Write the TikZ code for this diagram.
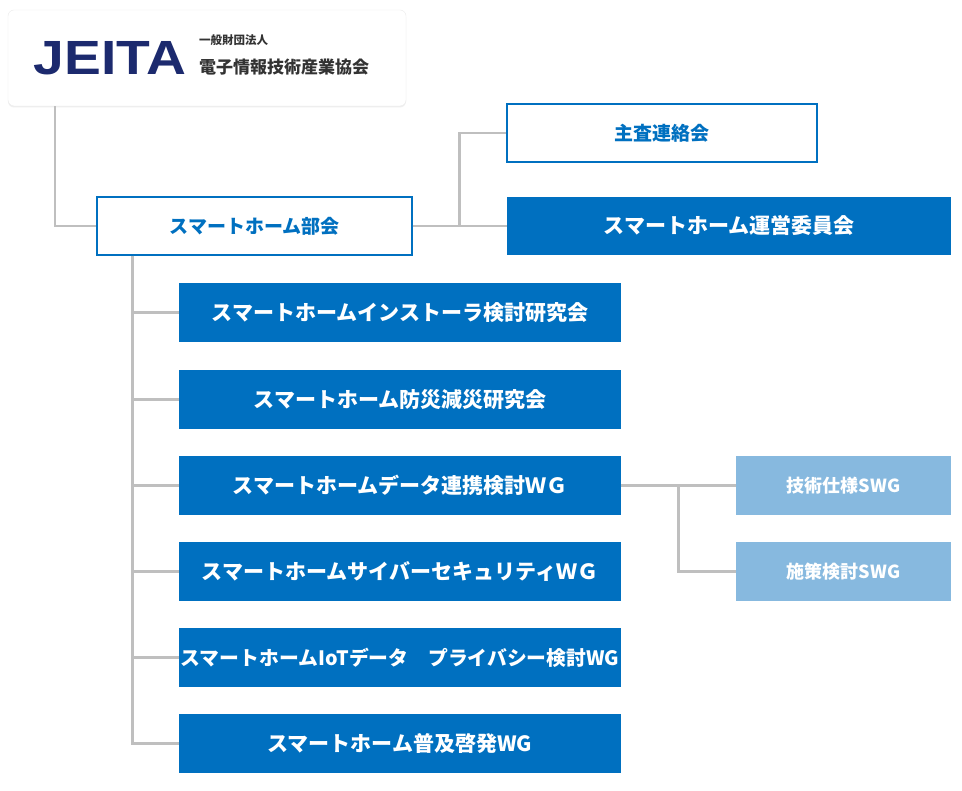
\documentclass[tikz,border=0pt]{standalone}
\usepackage{fontspec}
\setmainfont{Noto Sans CJK JP}
\newfontfamily\logofont{Liberation Sans}
\usetikzlibrary{calc,shadows}
\definecolor{wgblue}{HTML}{0070C0}
\definecolor{swgblue}{HTML}{87B9DF}
\definecolor{linegray}{HTML}{BFBFBF}
\definecolor{navy}{HTML}{1C2A6E}
\tikzset{
  conn/.style={draw=linegray, line width=2.6pt},
  outlinebox/.style={draw=wgblue, line width=1.3pt, fill=white, text=wgblue,
    font=\bfseries\fontsize{19}{19}\selectfont, minimum height=58pt, inner sep=0pt},
  wgbox/.style={fill=wgblue, text=white, minimum width=442pt, minimum height=59pt,
    font=\bfseries\fontsize{21}{21}\selectfont, inner sep=0pt},
  swgbox/.style={fill=swgblue, text=white, minimum width=215pt, minimum height=59pt,
    font=\bfseries\fontsize{18}{18}\selectfont, inner sep=0pt}
}

\begin{document}
\begin{tikzpicture}[x=1pt,y=-1pt]
    \useasboundingbox[fill=white] (0,0) rectangle (962,791);
    % logo
    \node[draw=black!8, fill=white, rounded corners=6pt, minimum width=398pt, minimum height=96pt,
      drop shadow={opacity=0.12, shadow xshift=0pt, shadow yshift=-1.5pt}] (jeita) at (207,58) {};
    \node[text=navy, font=\logofont\bfseries\fontsize{48}{48}\selectfont, xscale=1.15, inner sep=0pt] (jeitamark) at (110,58) {JEITA};
    \node[anchor=west, text=black!80, font=\bfseries\fontsize{11.5}{11.5}\selectfont, inner sep=0pt] (jeitasub) at (199,40) {一般財団法人};
    \node[anchor=west, text=black!80, font=\bfseries\fontsize{17}{17}\selectfont, inner sep=0pt] (jeitaname) at (199,67.5) {電子情報技術産業協会};
    % top level
    \node[outlinebox, minimum width=315pt] (bukai) at (254.5,226) {スマートホーム部会};
    \node[outlinebox, minimum width=310pt] (shusa) at (662,133) {主査連絡会};
    \node[wgbox, minimum width=444pt, minimum height=58pt] (unei) at (729,226) {スマートホーム運営委員会};
    % working groups
    \node[wgbox] (wg1) at (400,312.5) {スマートホームインストーラ検討研究会};
    \node[wgbox] (wg2) at (400,399.5) {スマートホーム防災減災研究会};
    \node[wgbox] (wg3) at (400,485.5) {スマートホームデータ連携検討ＷＧ};
    \node[wgbox] (wg4) at (400,571.5) {スマートホームサイバーセキュリティＷＧ};
    \node[wgbox] (wg5) at (400,657.5) {\fontsize{19.8}{19.8}\selectfont スマートホームIoTデータ　プライバシー検討WG};
    \node[wgbox] (wg6) at (400,743.5) {スマートホーム普及啓発WG};
    \node[swgbox] (swg1) at (843.5,485.5) {技術仕様SWG};
    \node[swgbox] (swg2) at (843.5,571.5) {施策検討SWG};
    % connectors
    \draw[conn] ([xshift=47pt]jeita.south west) |- (bukai.west);
    \draw[conn] (bukai.east) -- (unei.west);
    \draw[conn] ($(bukai.east)!0.5!(unei.west)$) |- (shusa.west);
    \coordinate (trunk) at ([xshift=36pt]bukai.south west);
    \draw[conn] (trunk) |- (wg6.west);
    \foreach \g in {wg1,wg2,wg3,wg4,wg5}
      \draw[conn] (trunk |- \g.west) -- (\g.west);
    \draw[conn] (wg3.east) -- (swg1.west);
    \draw[conn] ($(wg3.east)!0.5!(swg1.west)$) |- (swg2.west);
\end{tikzpicture}
\end{document}
